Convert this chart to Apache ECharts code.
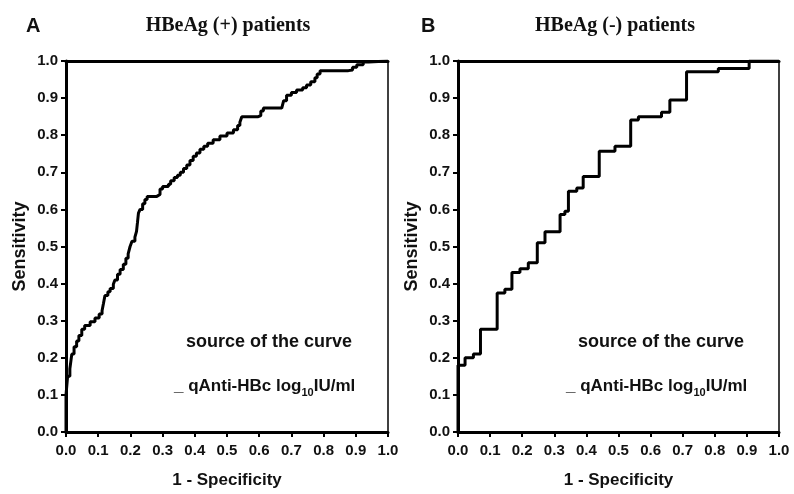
<!DOCTYPE html>
<html>
<head>
<meta charset="utf-8">
<script src="https://cdn.jsdelivr.net/npm/echarts@6/dist/echarts.min.js"></script>
<style>
html,body{margin:0;padding:0;background:#fff;}
#c{width:794px;height:494px;}
</style>
</head>
<body>
<div id="c"></div>
<script>
// Panel A: HBeAg (+) patients ROC (1 - specificity, sensitivity)
const fprA = [0,0,0.005,0.012,0.018,0.025,0.033,0.04,0.049,0.058,0.075,0.09,0.103,0.112,0.116,0.121,0.13,0.137,0.147,0.152,0.16,0.168,0.178,0.186,0.193,0.199,0.205,0.214,0.219,0.222,0.225,0.23,0.238,0.245,0.252,0.282,0.292,0.3,0.318,0.325,0.336,0.346,0.355,0.365,0.375,0.385,0.395,0.405,0.416,0.428,0.44,0.457,0.478,0.5,0.52,0.533,0.54,0.546,0.597,0.605,0.613,0.67,0.676,0.685,0.7,0.716,0.735,0.747,0.76,0.773,0.78,0.789,0.877,0.89,0.903,0.923,0.94,1.0];
const tprA = [0,0.1,0.15,0.17,0.21,0.23,0.245,0.26,0.277,0.287,0.297,0.307,0.318,0.327,0.345,0.368,0.378,0.387,0.398,0.41,0.425,0.438,0.452,0.468,0.48,0.5,0.514,0.525,0.541,0.565,0.59,0.6,0.615,0.627,0.635,0.64,0.655,0.662,0.668,0.677,0.686,0.692,0.7,0.71,0.72,0.732,0.743,0.752,0.762,0.77,0.778,0.788,0.798,0.806,0.815,0.826,0.835,0.85,0.853,0.865,0.873,0.878,0.893,0.908,0.915,0.922,0.928,0.935,0.944,0.955,0.965,0.974,0.976,0.983,0.99,0.997,1.0,1.0];
// Panel B: HBeAg (-) patients ROC
const fprB = [0,0,0.022,0.048,0.07,0.122,0.146,0.168,0.193,0.219,0.247,0.271,0.318,0.333,0.344,0.37,0.39,0.44,0.489,0.538,0.562,0.634,0.66,0.712,0.811,0.907,1.0];
const tprB = [0,0.18,0.2,0.21,0.277,0.375,0.385,0.43,0.44,0.456,0.51,0.54,0.586,0.595,0.649,0.658,0.689,0.757,0.77,0.841,0.85,0.862,0.895,0.971,0.98,1.0,1.0];

const panelTitles = ['HBeAg (+) patients', 'HBeAg (-) patients'];
const panelLetters = ['A', 'B'];
const xName = '1 - Specificity';
const yName = 'Sensitivity';
const legendTitle = 'source of the curve';

const chart = echarts.init(document.getElementById('c'), null, {renderer: 'canvas'});
const FONT = 'Liberation Sans, Arial, sans-serif';
const grids = [
  {left: 66, top: 61, width: 322, height: 372},
  {left: 458, top: 61, width: 321, height: 372}
];
const fmt = v => v.toFixed(1);
const xAxes = [], yAxes = [];
grids.forEach((g, i) => {
  xAxes.push({
    gridIndex: i, type: 'value', min: 0, max: 1, interval: 0.1, position: 'bottom',
    name: xName, nameLocation: 'middle', nameGap: 40,
    nameTextStyle: {fontFamily: FONT, fontWeight: 'bold', fontSize: 17, color: '#111'},
    axisLine: {lineStyle: {color: '#000', width: 3}},
    axisTick: {show: true, inside: false, length: 5, lineStyle: {color: '#000', width: 2}},
    axisLabel: {formatter: fmt, margin: 11, fontFamily: FONT, fontWeight: 'bold', fontSize: 15, color: '#111'},
    splitLine: {show: false}
  });
  xAxes.push({
    gridIndex: i, type: 'value', min: 0, max: 1, position: 'top',
    axisLine: {show: true, onZero: false, lineStyle: {color: '#000', width: 3}},
    axisTick: {show: false}, axisLabel: {show: false}, splitLine: {show: false}
  });
  yAxes.push({
    gridIndex: i, type: 'value', min: 0, max: 1, interval: 0.1, position: 'left',
    name: yName, nameLocation: 'middle', nameGap: 37, nameRotate: 90,
    nameTextStyle: {fontFamily: FONT, fontWeight: 'bold', fontSize: 18, color: '#111'},
    axisLine: {show: true, lineStyle: {color: '#000', width: 3}},
    axisTick: {show: true, inside: false, length: 5, lineStyle: {color: '#000', width: 2}},
    axisLabel: {formatter: fmt, margin: 8, fontFamily: FONT, fontWeight: 'bold', fontSize: 15, color: '#111'},
    splitLine: {show: false}
  });
  yAxes.push({
    gridIndex: i, type: 'value', min: 0, max: 1, position: 'right',
    axisLine: {show: true, onZero: false, lineStyle: {color: '#000', width: 1.5}},
    axisTick: {show: false}, axisLabel: {show: false}, splitLine: {show: false}
  });
});

const pairs = (xs, ys) => xs.map((x, k) => [x, ys[k]]);

const titles = [];
panelLetters.forEach((L, i) => {
  titles.push({text: L, left: i === 0 ? 21 : 416, top: 11,
    textStyle: {fontFamily: FONT, fontWeight: 'bold', fontSize: 20, color: '#111'}});
});
const titleCenters = [223, 610];
panelTitles.forEach((t, i) => {
  titles.push({text: t, left: titleCenters[i], top: 11, textAlign: 'center',
    textStyle: {fontFamily: 'Liberation Serif, Times New Roman, serif', fontWeight: 'bold', fontSize: 20, color: '#111'}});
});

const graphics = [];
const legendX = [186, 578];
legendX.forEach((lx, i) => {
  graphics.push({type: 'text', left: lx, top: 333,
    style: {text: legendTitle, font: 'bold 18px ' + FONT, fill: '#111'}});
  graphics.push({type: 'text', left: lx - 12, top: 378,
    style: {
      text: '{b|_ qAnti-HBc log}{s|10}{b|IU/ml}',
      rich: {
        b: {font: 'bold 17px ' + FONT, fill: '#111', lineHeight: 24, verticalAlign: 'middle'},
        s: {font: 'bold 11px ' + FONT, fill: '#111', lineHeight: 10, verticalAlign: 'bottom'}
      }
    }});
});

chart.setOption({
  animation: false,
  backgroundColor: '#fff',
  title: titles,
  grid: grids,
  xAxis: xAxes,
  yAxis: yAxes,
  graphic: graphics,
  series: [
    {type: 'line', xAxisIndex: 0, yAxisIndex: 0, step: 'end', showSymbol: false, symbol: 'none',
     lineStyle: {color: '#000', width: 3}, data: pairs(fprA, tprA), z: 5},
    {type: 'line', xAxisIndex: 2, yAxisIndex: 2, step: 'end', showSymbol: false, symbol: 'none',
     lineStyle: {color: '#000', width: 3}, data: pairs(fprB, tprB), z: 5}
  ]
});
</script>
</body>
</html>
